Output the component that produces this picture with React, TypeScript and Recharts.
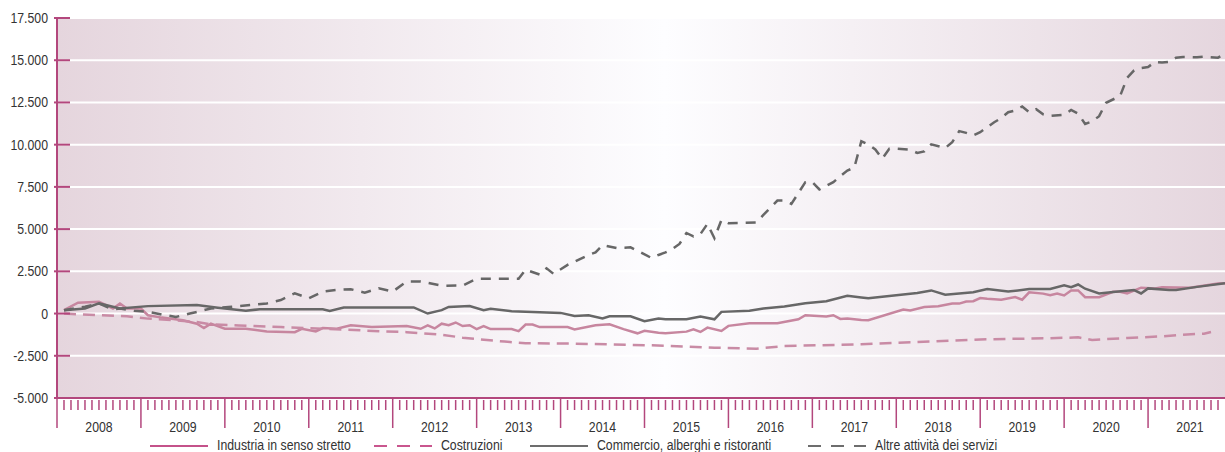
import { LineChart, Line, XAxis, YAxis, CartesianGrid } from 'recharts'

const years = ['2008', '2009', '2010', '2011', '2012', '2013', '2014', '2015', '2016', '2017', '2018', '2019', '2020', '2021']
const yTicks = [-5000, -2500, 0, 2500, 5000, 7500, 10000, 12500, 15000, 17500]

// month index: 1 = gen 2008
const industriaMonths = [1, 3, 6, 8, 9, 10, 12, 13, 15, 18, 20, 21, 22, 24, 27, 30, 34, 35, 37, 38, 40, 42, 45, 50, 52, 53, 54, 55, 56, 57, 58, 59, 60, 61, 62, 65, 66, 67, 68, 69, 73, 74, 77, 79, 81, 83, 84, 86, 87, 90, 91, 92, 93, 95, 96, 99, 103, 106, 107, 110, 111, 112, 113, 115, 116, 121, 122, 124, 126, 128, 129, 130, 131, 132, 133, 135, 137, 138, 139, 141, 142, 143, 144, 145, 146, 147, 149, 151, 152, 153, 155, 157, 158, 162, 166, 167]
const industriaValues = [200, 640, 700, 300, 600, 300, 300, -100, -240, -400, -600, -860, -600, -900, -900, -1060, -1100, -900, -1060, -860, -900, -700, -800, -740, -900, -700, -880, -600, -690, -530, -740, -690, -920, -740, -920, -920, -1040, -650, -650, -800, -800, -940, -690, -630, -920, -1170, -1020, -1140, -1170, -1070, -930, -1090, -830, -1030, -730, -570, -570, -340, -100, -180, -100, -320, -300, -380, -390, 240, 180, 390, 430, 590, 590, 710, 730, 920, 880, 820, 980, 820, 1260, 1180, 1090, 1190, 1070, 1370, 1370, 970, 970, 1290, 1290, 1190, 1530, 1490, 1560, 1530, 1780, 1800]

const costruzioniMonths = [1, 6, 10, 13, 17, 20, 22, 26, 32, 38, 47, 50, 55, 58, 64, 67, 74, 85, 94, 100, 104, 115, 123, 132, 142, 146, 148, 153, 158, 161, 164, 165]
const costruzioniValues = [0, -100, -160, -300, -400, -500, -640, -700, -800, -900, -1060, -1100, -1250, -1430, -1660, -1760, -1780, -1880, -2020, -2080, -1920, -1820, -1690, -1530, -1460, -1410, -1560, -1450, -1350, -1250, -1190, -1090]

const commercioMonths = [1, 4, 6, 9, 13, 20, 23, 27, 29, 38, 39, 41, 51, 53, 55, 56, 59, 61, 62, 65, 72, 74, 76, 78, 79, 82, 84, 86, 87, 90, 92, 94, 95, 99, 101, 104, 107, 110, 113, 115, 116, 123, 125, 127, 131, 133, 136, 139, 142, 144, 145, 146, 147, 149, 151, 154, 155, 156, 159, 160, 163, 167]
const commercioValues = [200, 300, 600, 300, 440, 500, 340, 160, 260, 260, 160, 360, 360, 0, 200, 390, 450, 200, 290, 140, 40, -140, -100, -290, -160, -160, -450, -300, -340, -340, -180, -340, 100, 160, 300, 420, 610, 730, 1050, 950, 900, 1220, 1370, 1120, 1260, 1450, 1300, 1450, 1460, 1680, 1560, 1720, 1470, 1190, 1270, 1390, 1190, 1490, 1390, 1390, 1580, 1800]

const altreMonths = [1, 4, 6, 8, 9, 11, 13, 15, 17, 19, 22, 25, 30, 32, 34, 36, 38, 40, 42, 44, 46, 48, 50, 52, 55, 58, 60, 66, 67, 69, 70, 71, 73, 74, 76, 77, 78, 80, 82, 83, 85, 86, 87, 88, 89, 90, 91, 92, 93, 94, 95, 96, 100, 101, 103, 104, 105, 107, 108, 109, 111, 112, 113, 114, 115, 116, 117, 118, 119, 120, 122, 123, 124, 125, 127, 128, 129, 130, 131, 132, 134, 135, 136, 137, 138, 139, 140, 141, 142, 144, 145, 146, 147, 148, 149, 150, 152, 153, 154, 155, 156, 157, 158, 159, 160, 161, 163, 164, 166, 167]
const altreValues = [200, 400, 600, 240, 300, 160, 100, -60, -200, 0, 300, 400, 600, 800, 1200, 900, 1300, 1400, 1440, 1240, 1500, 1300, 1900, 1900, 1650, 1660, 2060, 2060, 2600, 2310, 2680, 2350, 2880, 3070, 3470, 3620, 4050, 3880, 3920, 3720, 3290, 3470, 3620, 3820, 4120, 4770, 4570, 4710, 5310, 4460, 5540, 5350, 5400, 5840, 6690, 6690, 6490, 7780, 7780, 7350, 7780, 8140, 8470, 8640, 10200, 10020, 9720, 9170, 9760, 9760, 9700, 9510, 9600, 10020, 9800, 10150, 10800, 10700, 10550, 10740, 11330, 11570, 11920, 12020, 12260, 11920, 12100, 11800, 11700, 11770, 12060, 11830, 11230, 11370, 11690, 12480, 12880, 13950, 14400, 14540, 14600, 14900, 14860, 14900, 15150, 15190, 15170, 15210, 15150, 15380]

const toPoints = (months: number[], values: number[]) => months.map((m, i) => ({ m, v: values[i] }))

const AXIS = '#b3477d'
const TEXT = '#333'
// no narrow face installed, so Liberation Sans gets squeezed horizontally
const FONT = '"Liberation Sans", Arial, sans-serif'
const SQUEEZE = 0.82
const monthTicks = Array.from({ length: 167 }, (_, i) => i)

const series = [
  { name: 'Industria in senso stretto', points: toPoints(industriaMonths, industriaValues), color: '#c7869f', legend: '#c4528a', dash: undefined },
  { name: 'Costruzioni', points: toPoints(costruzioniMonths, costruzioniValues), color: '#c98ba5', legend: '#c9568e', dash: '12 7' },
  { name: 'Commercio, alberghi e ristoranti', points: toPoints(commercioMonths, commercioValues), color: '#676767', legend: '#6d6d6d', dash: undefined },
  { name: 'Altre attività dei servizi', points: toPoints(altreMonths, altreValues), color: '#676767', legend: '#6d6d6d', dash: '10 8' },
]
const legendLeft = [150, 374, 530, 808]

const fmt = (v: number) => (v < 0 ? '-' : '') + String(Math.abs(v)).replace(/\B(?=(\d{3})+(?!\d))/g, '.')

function NarrowText({ x, y, anchor, children }: any) {
  return (
    <text transform={`translate(${x} ${y}) scale(${SQUEEZE} 1)`} textAnchor={anchor} fontSize={15} fill={TEXT} fontFamily={FONT}>
      {children}
    </text>
  )
}

function ValueTick({ x, y, payload }: any) {
  return (
    <g>
      <line x1={x - 3} x2={x + 13} y1={y} y2={y} stroke={AXIS} strokeWidth={2} />
      <NarrowText x={x - 9} y={y + 5} anchor="end">{fmt(payload.value)}</NarrowText>
    </g>
  )
}

function MonthTick({ x, y, payload }: any) {
  const m = payload.value
  const isYear = m % 12 === 0
  const label = m % 12 === 6 ? years[Math.floor(m / 12)] : null
  return (
    <g>
      <line x1={x} x2={x} y1={isYear ? y : y + 2} y2={isYear ? y + 30 : y + 12} stroke={AXIS} strokeWidth={1.5} />
      {label && <NarrowText x={x} y={y + 34} anchor="middle">{label}</NarrowText>}
    </g>
  )
}

function LegendRow() {
  return (
    <svg width={1225} height={16} style={{ position: 'absolute', left: 0, top: 436 }}>
      {series.map((s, i) => (
        <g key={s.name}>
          <line x1={legendLeft[i]} x2={legendLeft[i] + 58} y1={10} y2={10} stroke={s.legend} strokeWidth={2} strokeDasharray={s.dash ? '13 10' : undefined} />
          <NarrowText x={legendLeft[i] + 67} y={14} anchor="start">{s.name}</NarrowText>
        </g>
      ))}
    </svg>
  )
}

export default function App() {
  return (
    <div style={{ position: 'absolute', left: 0, top: 0, width: 1225, height: 452, background: '#fff', fontFamily: FONT, overflow: 'hidden' }}>
      <LineChart width={1225} height={452} margin={{ top: 18, right: 0, bottom: 0, left: 0 }}>
        <defs>
          <linearGradient id="plotBg" x1="0" y1="0" x2="1" y2="0">
            <stop offset="0%" stopColor="#e5d5dd" />
            <stop offset="52%" stopColor="#fdfdff" />
            <stop offset="100%" stopColor="#e5d6de" />
          </linearGradient>
        </defs>
        <CartesianGrid vertical={false} stroke="#fff" strokeWidth={2} fill="url(#plotBg)" fillOpacity={1} />
        <XAxis
          dataKey="m"
          type="number"
          domain={[0, 167]}
          ticks={monthTicks}
          interval={0}
          height={54}
          tickSize={0}
          tickMargin={0}
          tickLine={false}
          axisLine={{ stroke: AXIS, strokeWidth: 2 }}
          tick={<MonthTick />}
          allowDuplicatedCategory={false}
        />
        <YAxis
          type="number"
          domain={[-5000, 17500]}
          ticks={yTicks}
          interval={0}
          width={57}
          tickSize={0}
          tickMargin={0}
          tickLine={false}
          axisLine={{ stroke: AXIS, strokeWidth: 2 }}
          tick={<ValueTick />}
        />
        {series.map(s => (
          <Line
            key={s.name}
            data={s.points}
            dataKey="v"
            type="linear"
            stroke={s.color}
            strokeWidth={2.5}
            strokeDasharray={s.dash}
            dot={false}
            activeDot={false}
            isAnimationActive={false}
          />
        ))}
      </LineChart>
      <LegendRow />
    </div>
  )
}
